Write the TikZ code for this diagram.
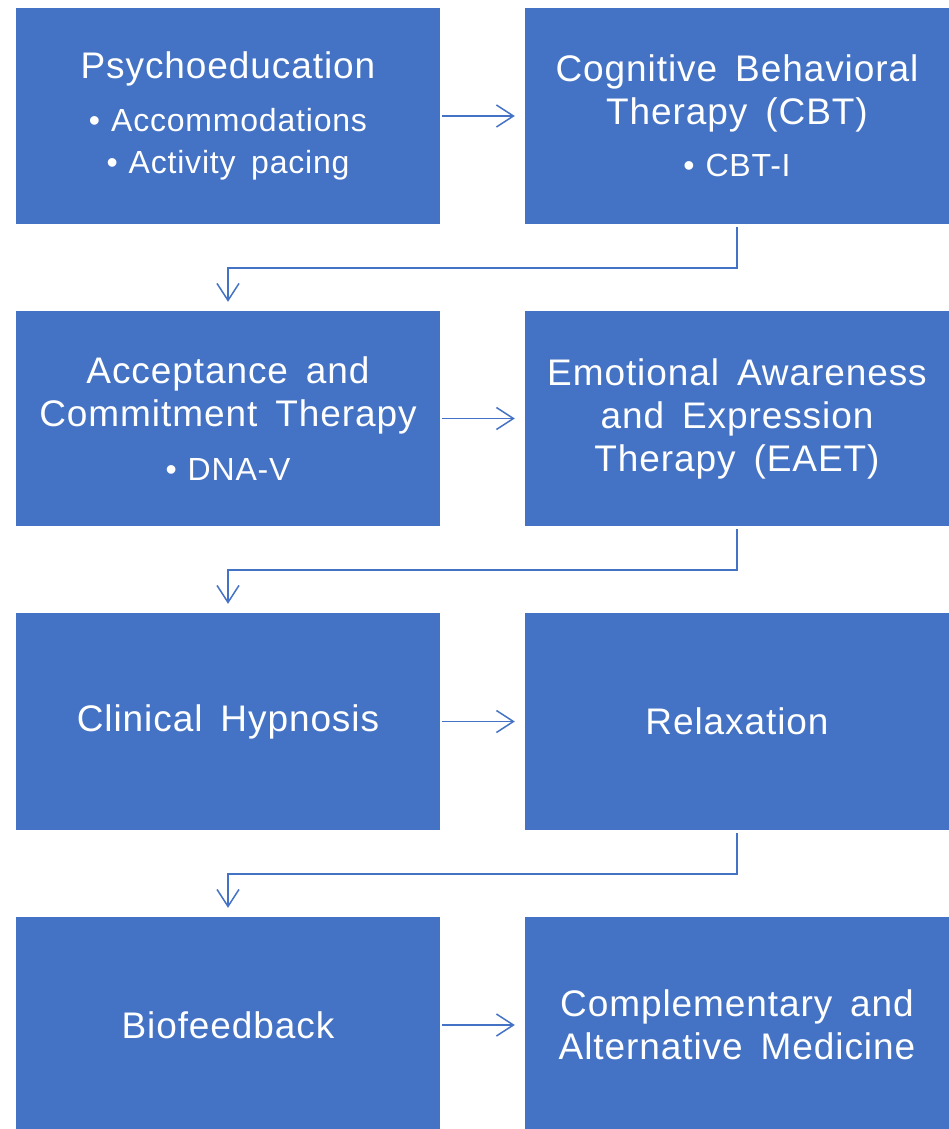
\documentclass[tikz,border=0pt]{standalone}
\usepackage{fontspec}
\setmainfont{Liberation Sans}[LetterSpace=2.5,WordSpace=1.6]
\usetikzlibrary{arrows.meta}
\definecolor{boxblue}{HTML}{4472C4}
\newcommand\ttlfont{\fontsize{37}{43}\selectfont}
\newcommand\bulfont{\fontsize{32}{42}\selectfont}
\newcommand\bul{\textbullet\hspace{11pt}}
\tikzset{
  box/.style={fill=boxblue, draw=none, minimum width=424pt, inner sep=0pt,
    text=white, align=center, font=\ttlfont},
  conn/.style={draw=boxblue, line width=1.5pt,
    -{Straight Barb[length=17pt,width=22pt,line width=1.5pt]}},
  hconn/.style={conn, shorten <=2pt, shorten >=10pt}
}
\begin{document}
\begin{tikzpicture}[x=1pt,y=-1pt]
\useasboundingbox[fill=white] (0,0) rectangle (948,1129);
% row 1
\node[box, minimum height=216pt] (b1) at (228,116)
  {Psychoeducation\\[10pt]{\bulfont\bul Accommodations}\\[-1pt]{\bulfont\bul Activity pacing}};
\node[box, minimum height=216pt] (b2) at (737,116)
  {Cognitive Behavioral\\Therapy (CBT)\\[9pt]{\bulfont\bul CBT-I}};
% row 2
\node[box, minimum height=215pt] (b3) at (228,418.5)
  {Acceptance and\\Commitment Therapy\\[11pt]{\bulfont\bul DNA-V}};
\node[box, minimum height=215pt] (b4) at (737,418.5)
  {Emotional Awareness\\and Expression\\Therapy (EAET)};
% row 3
\node[box, minimum height=217pt] (b5) at (228,721.5) {Clinical Hypnosis};
\node[box, minimum height=217pt] (b6) at (737,721.5) {Relaxation};
% row 4
\node[box, minimum height=216pt] (b7) at (228,1025) {Biofeedback};
\node[box, minimum height=216pt] (b8) at (737,1025) {Complementary and\\Alternative Medicine};
% horizontal connectors
\draw[hconn] (b1.east) -- (b2.west);
\draw[hconn] (b3.east) -- (b4.west);
\draw[hconn] (b5.east) -- (b6.west);
\draw[hconn] (b7.east) -- (b8.west);
% elbow connectors
\coordinate (e1a) at (737,268);
\coordinate (e1b) at (228,268);
\coordinate (e2a) at (737,570);
\coordinate (e2b) at (228,570);
\coordinate (e3a) at (737,874);
\coordinate (e3b) at (228,874);
\draw[conn, shorten <=3pt, shorten >=9pt] (b2.south) -- (e1a) -- (e1b) -- (b3.north);
\draw[conn, shorten <=3pt, shorten >=9pt] (b4.south) -- (e2a) -- (e2b) -- (b5.north);
\draw[conn, shorten <=3pt, shorten >=9pt] (b6.south) -- (e3a) -- (e3b) -- (b7.north);
\end{tikzpicture}
\end{document}
